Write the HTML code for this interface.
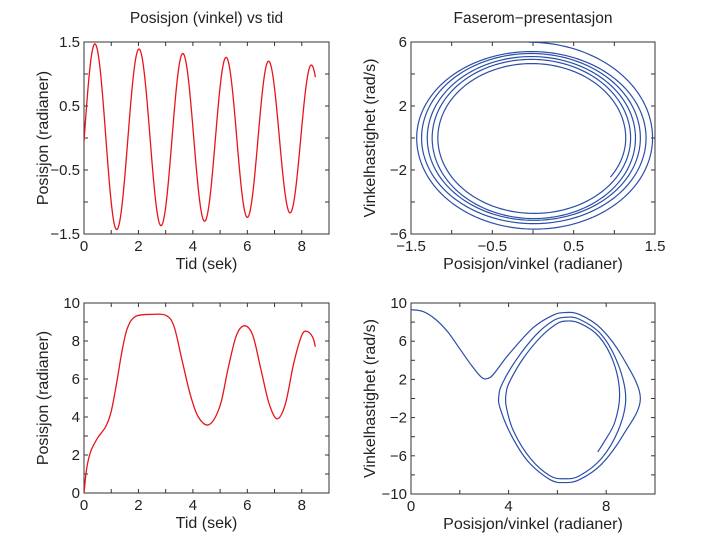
<!DOCTYPE html>
<html><head><meta charset="utf-8"><style>
html,body{margin:0;padding:0;background:#fff;}
svg{display:block;font-family:"Liberation Sans",sans-serif;}
</style></head><body>
<svg id="fig" width="725" height="547" viewBox="0 0 725 547"></svg>
<script>
// Top-left: extrema of damped oscillation (time, value); first/last are virtual endpoints clipped to [0, 8.5]
const extremaT = [-0.4, 0.4, 1.2, 2.02, 2.83, 3.63, 4.43, 5.22, 6.0, 6.78, 7.57, 8.35, 9.15];
const extremaY = [-1.58, 1.47, -1.43, 1.39, -1.37, 1.32, -1.3, 1.26, -1.24, 1.2, -1.17, 1.14, -1.1];
const tStart = 0, tEnd = 8.5;
// Bottom-left: position vs time samples
const blT = [0,0.1,0.25,0.5,0.8,1.0,1.2,1.4,1.6,1.9,2.5,3.0,3.3,3.6,3.9,4.2,4.6,5.0,5.3,5.6,5.9,6.2,6.5,6.8,7.1,7.4,7.7,8.0,8.2,8.4,8.5];
const blY = [0,1.3,2.2,2.9,3.5,4.3,5.8,7.5,8.7,9.3,9.4,9.35,8.8,7.0,5.2,4.0,3.6,4.6,6.6,8.3,8.8,8.3,6.5,4.7,3.9,4.7,6.8,8.3,8.5,8.2,7.7];
// Bottom-right: phase path samples
const brX = [0,0.5,1,1.5,2,2.5,2.9,3.15,3.4,4.0,5.0,5.8,6.3,6.9,7.8,8.7,9.4,8.7,7.8,6.9,6.3,5.7,4.8,4.1,3.65,3.6,3.75,4.3,5.1,5.8,6.3,6.9,7.8,8.5,8.8,8.5,7.8,6.9,6.3,5.7,4.9,4.2,3.9,3.9,4.05,4.6,5.3,5.9,6.3,6.9,7.7,8.3,8.55,8.35,7.9,7.65];
const brV = [9.3,9.1,8.3,7.0,5.2,3.4,2.2,2.1,2.6,4.6,7.4,8.7,9.0,8.8,7.3,4.2,0,-3.8,-6.9,-8.5,-8.8,-8.5,-6.6,-3.8,-1.0,0.3,1.6,4.0,6.6,8.1,8.5,8.3,6.7,3.5,0,-3.3,-6.3,-8.1,-8.4,-8.1,-6.3,-3.4,-0.8,0.6,1.8,4.2,6.4,7.7,8.1,7.9,6.5,3.8,0.5,-2.5,-4.6,-5.6];
// Tick labels
const tlXTicks = [0,2,4,6,8], tlYTicks = [1.5,0.5,-0.5,-1.5];
const trXTicks = [-1.5,-0.5,0.5,1.5], trYTicks = [6,2,-2,-6];
const blXTicks = [0,2,4,6,8], blYTicks = [0,2,4,6,8,10];
const brXTicks = [0,4,8], brYTicks = [10,6,2,-2,-6,-10];

const NS="http://www.w3.org/2000/svg", svg=document.getElementById('fig');
function el(tag,attrs,parent){const e=document.createElementNS(NS,tag);for(const k in attrs)e.setAttribute(k,attrs[k]);(parent||svg).appendChild(e);return e;}
function txt(s,x,y,anchor,size,parent,rot){const t=el('text',{x:x,y:y,'text-anchor':anchor,'font-size':size,fill:'#222'},parent);if(rot)t.setAttribute('transform','rotate(-90 '+x+' '+y+')');t.textContent=s;return t;}

function axes(name,box,xr,yr,xMinor,yMinor,xLab,yLab,xTitle,yTitle,title){
  const g=el('g',{});
  
  
  const [L,T,R,B]=box;
  const sx=v=>L+(v-xr[0])/(xr[1]-xr[0])*(R-L);
  const sy=v=>B-(v-yr[0])/(yr[1]-yr[0])*(B-T);
  const fr=el('rect',{x:L,y:T,width:R-L,height:B-T,fill:'none',stroke:'#333','stroke-width':1},g);
  
  
  for(let v=xr[0];v<=xr[1]+1e-9;v+=xMinor){const x=sx(v);el('line',{x1:x,y1:B,x2:x,y2:B-4,stroke:'#333'},g);el('line',{x1:x,y1:T,x2:x,y2:T+4,stroke:'#333'},g);}
  for(let v=yr[0];v<=yr[1]+1e-9;v+=yMinor){const y=sy(v);el('line',{x1:L,y1:y,x2:L+4,y2:y,stroke:'#333'},g);el('line',{x1:R,y1:y,x2:R-4,y2:y,stroke:'#333'},g);}
  xLab.forEach(v=>{const t=txt(String(v).replace('-','\u2212'),sx(v),B+17,'middle',15,g);});
  yLab.forEach(v=>{const t=txt(String(v).replace('-','\u2212'),L-4,sy(v)+5,'end',15,g);});
  const xt=txt(xTitle,(L+R)/2,B+35,'middle',16,g);
  
  
  const yt=txt(yTitle,L-36,(T+B)/2,'middle',16,g,true);
  
  
  if(title){const tt=txt(title,(L+R)/2,T-19,'middle',15.5,g);}
  const cp='c'+name;const clip=el('clipPath',{id:cp},g);el('rect',{x:L,y:T,width:R-L,height:B-T},clip);
  return {g,sx,sy,cp};
}
function smoothPath(xs,ys,sx,sy){
  const P=xs.map((x,i)=>[sx(x),sy(ys[i])]);let d='M'+P[0][0]+','+P[0][1];
  for(let i=0;i<P.length-1;i++){const p0=P[Math.max(0,i-1)],p1=P[i],p2=P[i+1],p3=P[Math.min(P.length-1,i+2)];
    d+=' C'+(p1[0]+(p2[0]-p0[0])/6)+','+(p1[1]+(p2[1]-p0[1])/6)+' '+(p2[0]-(p3[0]-p1[0])/6)+','+(p2[1]-(p3[1]-p1[1])/6)+' '+p2[0]+','+p2[1];}
  return d;
}
function evalOsc(t){
  for(let i=0;i<extremaT.length-1;i++){const t0=extremaT[i],t1=extremaT[i+1];
    if(t>=t0&&t<=t1){const s=(t-t0)/(t1-t0),y0=extremaY[i],y1=extremaY[i+1];
      return [y0+(y1-y0)*(1-Math.cos(Math.PI*s))/2,(y1-y0)*Math.PI/(2*(t1-t0))*Math.sin(Math.PI*s)];}}
  return [0,0];
}
const tt=[],px=[],pv=[];
for(let t=tStart;t<=tEnd+1e-9;t+=0.01){const r=evalOsc(t);tt.push(t);px.push(r[0]);pv.push(r[1]);}

const A1=axes('position-time-top',[84,42,329,234],[0,9],[-1.5,1.5],1,0.5,tlXTicks,tlYTicks,'Tid (sek)','Posisjon (radianer)','Posisjon (vinkel) vs tid');
const l1=el('path',{d:'M'+tt.map((t,i)=>A1.sx(t)+','+A1.sy(px[i])).join(' L'),fill:'none',stroke:'#e8141b','stroke-width':1.3,'clip-path':'url(#'+A1.cp+')'},A1.g);



const A2=axes('phase-top',[411,42,655,234],[-1.5,1.5],[-6,6],0.5,2,trXTicks,trYTicks,'Posisjon/vinkel (radianer)','Vinkelhastighet (rad/s)','Faserom\u2212presentasjon');
const l2=el('path',{d:'M'+px.map((x,i)=>A2.sx(x)+','+A2.sy(pv[i])).join(' L'),fill:'none',stroke:'#2b4ea8','stroke-width':1.2,'clip-path':'url(#'+A2.cp+')'},A2.g);



const A3=axes('position-time-bottom',[84,303,329,493],[0,9],[0,10],1,1,blXTicks,blYTicks,'Tid (sek)','Posisjon (radianer)',null);
const l3=el('path',{d:smoothPath(blT,blY,A3.sx,A3.sy),fill:'none',stroke:'#e8141b','stroke-width':1.3,'clip-path':'url(#'+A3.cp+')'},A3.g);



const A4=axes('phase-bottom',[411,303,655,494],[0,10],[-10,10],2,2,brXTicks,brYTicks,'Posisjon/vinkel (radianer)','Vinkelhastighet (rad/s)',null);
const l4=el('path',{d:smoothPath(brX,brV,A4.sx,A4.sy),fill:'none',stroke:'#2b4ea8','stroke-width':1.2,'clip-path':'url(#'+A4.cp+')'},A4.g);


</script>
</body></html>
